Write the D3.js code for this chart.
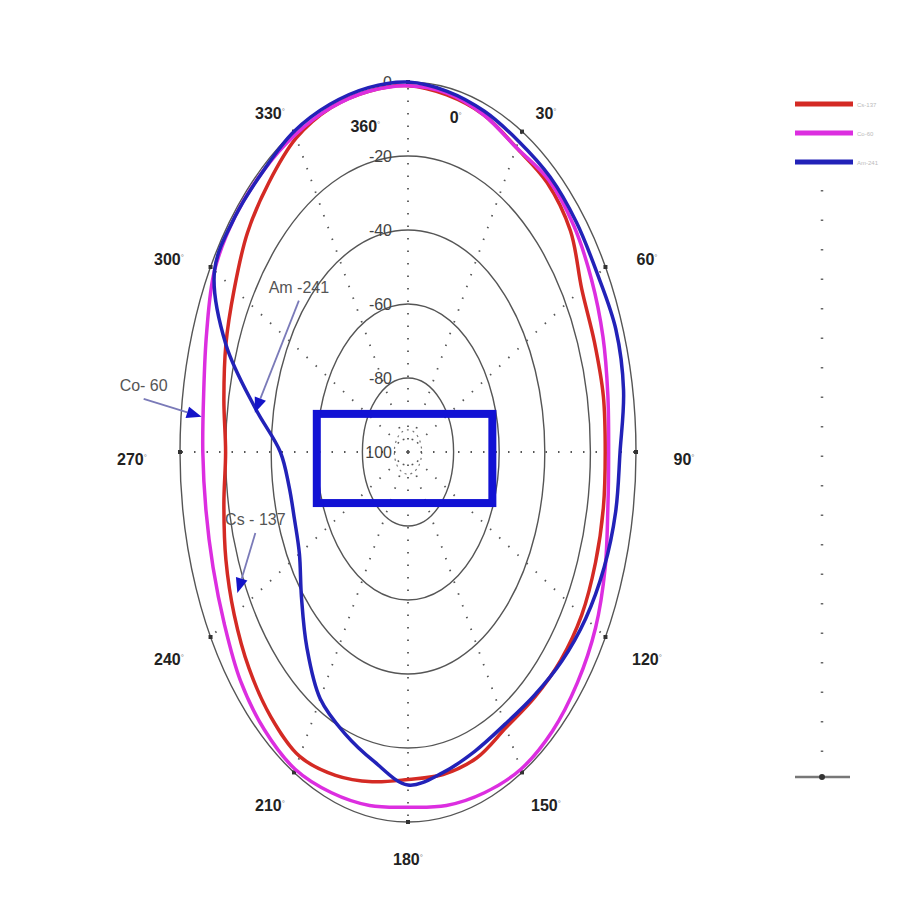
<!DOCTYPE html>
<html>
<head>
<meta charset="utf-8">
<script src="https://cdn.jsdelivr.net/npm/d3@7"></script>
<style>
  body { margin: 0; background: #fff; }
  svg { display: block; }
</style>
</head>
<body>
<svg width="900" height="900"></svg>
<script>
// angles (deg, clockwise from top) and relative response (dB) of each source
const angles = [0, 10, 20, 30, 40, 50, 60, 70, 80, 90, 100, 110, 120, 130, 140, 150, 160, 170,
  180, 190, 200, 210, 220, 230, 240, 250, 260, 270, 280, 290, 300, 310, 320, 330, 340, 350]
const cs137 = [-1, -2, -3, -5, -5, -7, -12, -13, -13, -13.5, -13, -12.5, -12, -12.5, -13.5, -14, -12, -11.5,
  -11.5, -9.5, -7, -5, -6.5, -9, -12, -15, -18, -20, -18, -15, -12, -8, -5, -2, -1, -1]
const co60 = [-1, -1.5, -3, -5, -4, -5, -7, -9, -11, -12, -11, -8, -5, -3, -1.5, -1, -2, -3,
  -4, -3, -2, -1, -2, -4, -7, -9, -10, -10, -9, -6, -2, -1, -1, -1, -1, -1]
const am241 = [0, -1, -2, -3, -3, -3.5, -4, -3, -4, -7, -7.5, -8.5, -10, -12, -14, -15, -14, -12,
  -10, -15, -19, -23, -31, -39, -45, -47, -47, -44, -32, -15, -2, -1, -1, 0, 0, 0]

const seriesNames = ["Cs-137", "Co-60", "Am-241"]
const seriesColors = ["#d42a24", "#dc2ee0", "#2222b8"]
const seriesValues = [cs137, co60, am241]

const ringValues = [-80, -60, -40, -20, 0]
const ringLabels = ["0", "-20", "-40", "-60", "-80", "100"]
const ringLabelValues = [0, -20, -40, -60, -80, -100]
const spokeAngles = [0, 30, 60, 90, 120, 150, 180, 210, 240, 270, 300, 330]
const angleLabelAngles = [30, 60, 90, 120, 150, 180, 210, 240, 270, 300, 330]

// annotation arrows: source, tip angle, tip dB
const noteNames = ["Co- 60", "Am -241", "Cs - 137"]
const noteAngles = [276, 279, 243]
const noteValues = [-9, -32, -16]

// layout
const cx = 408, cy = 452, rx = 228, ry = 370
const svg = d3.select("svg")

const rScale = d3.scaleLinear().domain([-100, 0]).range([0, 1])
function pt(angle, v) {
  const a = angle * Math.PI / 180
  const f = rScale(v)
  return [cx + Math.sin(a) * rx * f, cy - Math.cos(a) * ry * f]
}

// grid rings
svg.append("g").selectAll("ellipse")
  .data(ringValues)
  .enter()
  .append("ellipse")
  .attr("cx", cx).attr("cy", cy)
  .attr("rx", d => rx * rScale(d))
  .attr("ry", d => ry * rScale(d))
  .attr("fill", "none")
  .attr("stroke", "#555")
  .attr("stroke-width", 1.4)

// small dotted ring at centre
svg.append("ellipse")
  .attr("cx", cx).attr("cy", cy)
  .attr("rx", rx * rScale(-94)).attr("ry", ry * rScale(-94))
  .attr("fill", "none").attr("stroke", "#777")
  .attr("stroke-width", 1.2).attr("stroke-dasharray", "2,4")

// dotted spokes
svg.append("g").selectAll("line")
  .data(spokeAngles)
  .enter()
  .append("line")
  .attr("x1", d => pt(d, -100)[0]).attr("y1", d => pt(d, -100)[1])
  .attr("x2", d => pt(d, 0)[0]).attr("y2", d => pt(d, 0)[1])
  .attr("stroke", "#555")
  .attr("stroke-width", 1.8)
  .attr("stroke-dasharray", "1.5,11")

// tick squares on outer ring
svg.append("g").selectAll("rect")
  .data(spokeAngles)
  .enter()
  .append("rect")
  .attr("x", d => pt(d, 0)[0] - 2).attr("y", d => pt(d, 0)[1] - 2)
  .attr("width", 4).attr("height", 4)
  .attr("fill", "#333")

// radial labels
svg.append("g").selectAll("text")
  .data(ringLabelValues)
  .enter()
  .append("text")
  .attr("x", cx - 16)
  .attr("y", d => pt(0, d)[1] + 6)
  .attr("text-anchor", "end")
  .attr("font-family", "Liberation Sans, Arial, sans-serif")
  .attr("font-size", 16)
  .attr("fill", "#444")
  .text((d, i) => ringLabels[i])

// angle labels round the outside
const lrx = 276, lry = 400, lcy = 459
const angleText = svg.append("g").selectAll("text")
  .data(angleLabelAngles)
  .enter()
  .append("text")
  .attr("x", d => cx + Math.sin(d * Math.PI / 180) * lrx)
  .attr("y", d => lcy - Math.cos(d * Math.PI / 180) * lry + 6)
  .attr("text-anchor", "middle")
  .attr("font-family", "Liberation Sans Narrow, Liberation Sans, Arial, sans-serif")
  .attr("font-weight", "bold")
  .attr("font-size", 16)
  .attr("fill", "#222")
angleText.append("tspan").text(d => d)
angleText.append("tspan").attr("font-size", 8).attr("dy", -5).attr("font-weight", "normal").attr("fill", "#777").text("°")

// the 360 / 0 pair just inside the top of the ring
const topLabels = [["360", 348, -10], ["0", 13, -7]]
const topText = svg.append("g").selectAll("text")
  .data(topLabels)
  .enter()
  .append("text")
  .attr("x", d => pt(d[1], d[2])[0])
  .attr("y", d => pt(d[1], d[2])[1] + 6)
  .attr("text-anchor", "middle")
  .attr("font-family", "Liberation Sans Narrow, Liberation Sans, Arial, sans-serif")
  .attr("font-weight", "bold")
  .attr("font-size", 16)
  .attr("fill", "#222")
topText.append("tspan").text(d => d[0])
topText.append("tspan").attr("font-size", 8).attr("dy", -5).attr("font-weight", "normal").attr("fill", "#777").text("°")

// response curves
const line = d3.line().curve(d3.curveCatmullRomClosed.alpha(0.5))
svg.append("g").selectAll("path")
  .data(seriesValues)
  .enter()
  .append("path")
  .attr("d", vals => line(angles.map((a, i) => pt(a, vals[i]))))
  .attr("fill", "none")
  .attr("stroke", (d, i) => seriesColors[i])
  .attr("stroke-width", 3.5)
  .attr("stroke-linejoin", "round")

// blue box round the centre
const box = [pt(270, -60), pt(90, -63), pt(0, -89.7), pt(180, -86.2)]
svg.append("rect")
  .attr("x", box[0][0]).attr("y", box[2][1])
  .attr("width", box[1][0] - box[0][0])
  .attr("height", box[3][1] - box[2][1])
  .attr("fill", "none")
  .attr("stroke", "#1212d4")
  .attr("stroke-width", 8)

// annotations with arrows
const noteOffsets = [[-58, -26], [44, -120], [18, -68]]
const notes = svg.append("g")
noteNames.forEach((name, i) => {
  const tip = pt(noteAngles[i], noteValues[i])
  const tx = tip[0] + noteOffsets[i][0], ty = tip[1] + noteOffsets[i][1]
  const ang = Math.atan2(tip[1] - (ty + 8), tip[0] - tx)
  const len = 15, half = 6
  const base = [tip[0] - Math.cos(ang) * len, tip[1] - Math.sin(ang) * len]
  notes.append("line")
    .attr("x1", tx).attr("y1", ty + 8)
    .attr("x2", base[0]).attr("y2", base[1])
    .attr("stroke", "#7a7ab8").attr("stroke-width", 1.8)
  notes.append("path")
    .attr("d", d3.line()([
      tip,
      [base[0] - Math.sin(ang) * half, base[1] + Math.cos(ang) * half],
      [base[0] + Math.sin(ang) * half, base[1] - Math.cos(ang) * half]
    ]) + "Z")
    .attr("fill", "#1414c8")
  notes.append("text")
    .attr("x", tx).attr("y", ty)
    .attr("text-anchor", "middle")
    .attr("font-family", "Liberation Sans, Arial, sans-serif")
    .attr("font-size", 16)
    .attr("fill", "#555")
    .text(name)
})

// legend
const legend = svg.append("g")
legend.selectAll("line")
  .data(seriesNames)
  .enter()
  .append("line")
  .attr("x1", 795).attr("x2", 853)
  .attr("y1", (d, i) => 104 + i * 29).attr("y2", (d, i) => 104 + i * 29)
  .attr("stroke", (d, i) => seriesColors[i])
  .attr("stroke-width", 5)
legend.selectAll("text")
  .data(seriesNames)
  .enter()
  .append("text")
  .attr("x", 857).attr("y", (d, i) => 107 + i * 29)
  .attr("font-family", "Liberation Sans, Arial, sans-serif")
  .attr("font-size", 6)
  .attr("fill", "#bbb")
  .text(d => d)

// dotted axis under legend
legend.append("line")
  .attr("x1", 822).attr("x2", 822).attr("y1", 190).attr("y2", 777)
  .attr("stroke", "#666").attr("stroke-width", 2.5)
  .attr("stroke-dasharray", "1.5,28")
legend.append("line")
  .attr("x1", 795).attr("x2", 850).attr("y1", 777).attr("y2", 777)
  .attr("stroke", "#777").attr("stroke-width", 2.5)
legend.append("circle")
  .attr("cx", 822).attr("cy", 777).attr("r", 3)
  .attr("fill", "#333")
</script>
</body>
</html>
